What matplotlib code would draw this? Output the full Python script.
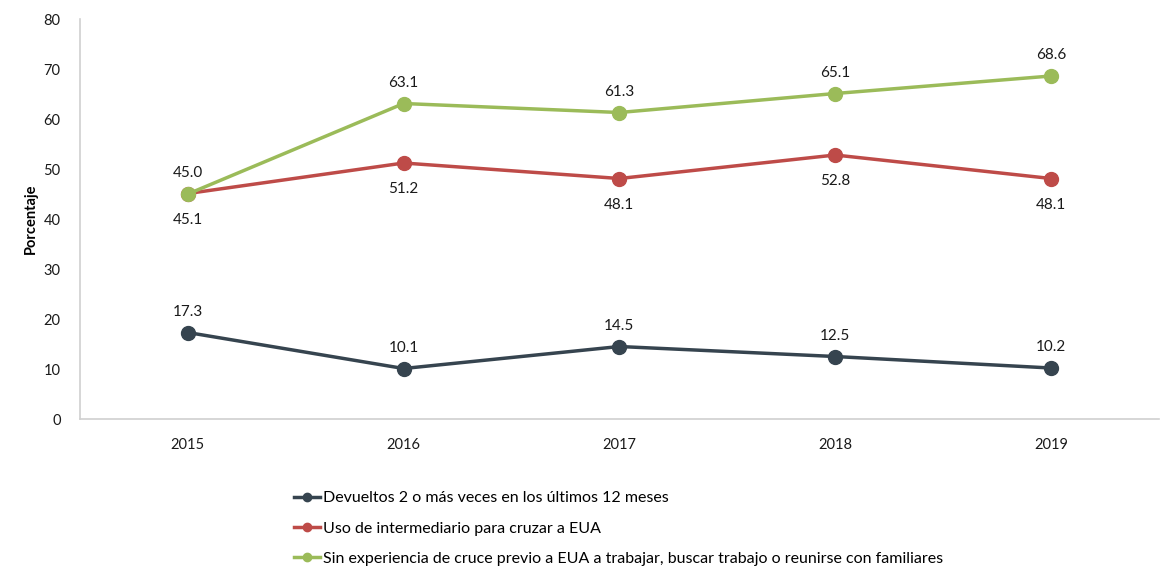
import matplotlib
matplotlib.use("Agg")
import matplotlib.pyplot as plt
from matplotlib.lines import Line2D

years = ["2015", "2016", "2017", "2018", "2019"]
devueltos = [17.3, 10.1, 14.5, 12.5, 10.2]
intermediario = [45.1, 51.2, 48.1, 52.8, 48.1]
sin_experiencia = [45.0, 63.1, 61.3, 65.1, 68.6]

labels = [
    "Devueltos 2 o más veces en los últimos 12 meses",
    "Uso de intermediario para cruzar a EUA",
    "Sin experiencia de cruce previo a EUA a trabajar, buscar trabajo o reunirse con familiares",
]
colors = ["#36444F", "#BE4B48", "#9BBB59"]

plt.rcParams['font.family'] = ['Lato', 'DejaVu Sans']

fig = plt.figure(figsize=(11.74, 5.69), dpi=100)
ax = fig.add_axes([0.0681, 0.2636, 0.919, 0.703])

x = list(range(len(years)))
series = [devueltos, intermediario, sin_experiencia]
# label offsets in points (positive = above)
offsets = [
    [15, 15, 15, 15, 15],
    [-19, -19, -19, -19, -19],
    [15, 15, 15, 15, 15],
]
for vals, c, lab, offs in zip(series, colors, labels, offsets):
    ax.plot(x, vals, color=c, lw=2.5, marker='o', ms=10, label=lab, zorder=3)
    for xi, v, o in zip(x, vals, offs):
        ax.annotate(f"{v:.1f}", (xi, v), xytext=(0, o), textcoords='offset points',
                    ha='center', va='center', fontsize=11, color='#1a1a1a')

ax.set_xlim(-0.5, 4.5)
ax.set_ylim(0, 80)
ax.set_yticks(range(0, 81, 10))
ax.set_xticks(x)
ax.set_xticklabels(years)
ax.tick_params(length=0, labelsize=10.5, colors='#1a1a1a')
ax.tick_params(axis='y', pad=14)
ax.tick_params(axis='x', pad=14)
for s in ['top', 'right']:
    ax.spines[s].set_visible(False)
for s in ['left', 'bottom']:
    ax.spines[s].set_color('#D0D0D0')
    ax.spines[s].set_linewidth(1.2)
ax.set_ylabel("Porcentaje", fontsize=10.5, fontweight='bold', labelpad=4)

handles = [Line2D([0], [0], color=c, lw=2.5, marker='o', ms=6) for c in colors]
fig.legend(handles, labels, loc='upper left', bbox_to_anchor=(0.245, 0.148),
           frameon=False, fontsize=11.5, handlelength=1.6, handletextpad=0.2,
           labelspacing=1.0, borderaxespad=0)

fig.savefig("out.png", dpi=100)
